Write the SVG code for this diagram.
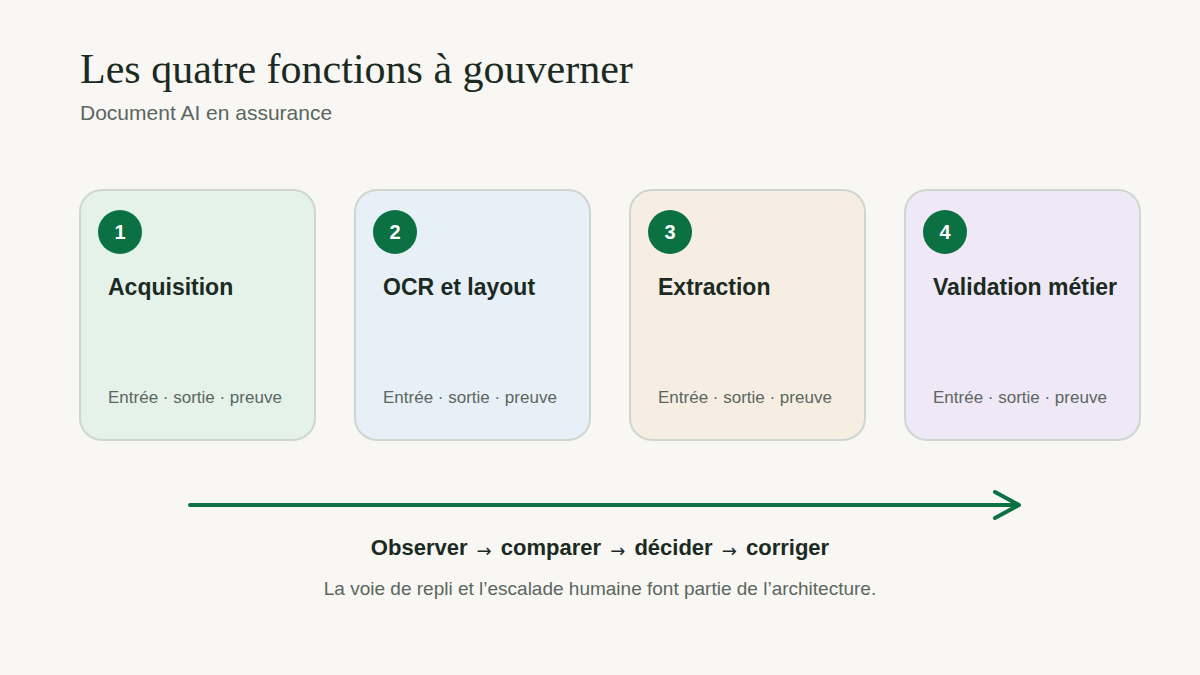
<svg xmlns="http://www.w3.org/2000/svg" width="1200" height="675" viewBox="0 0 1200 675">
<style>
.card{stroke:#cdd6cf;stroke-width:2}
.badge{fill:#0b7142}
.num{font-family:"Liberation Sans",Arial,sans-serif;font-weight:bold;font-size:20px;fill:#ffffff;text-anchor:middle}
.ttl{font-family:"Liberation Sans",Arial,sans-serif;font-weight:bold;font-size:23px;fill:#1b2a22}
.sub{font-family:"Liberation Sans",Arial,sans-serif;font-size:17px;fill:#5b6660}
.arr{font-weight:normal;font-family:"DejaVu Sans",sans-serif;font-size:18px}
</style>
<rect width="1200" height="675" fill="#f8f7f3"/>
<text x="80" y="83" font-family="Liberation Serif,Times New Roman,serif" font-size="42" fill="#1b2a22">Les quatre fonctions à gouverner</text>
<text x="80" y="120" font-family="Liberation Sans,Arial,sans-serif" font-size="21" fill="#5b6660">Document AI en assurance</text>
<g id="node1">
<rect class="card" x="80" y="190" width="235" height="250" rx="22" fill="#e5f2ea"/>
<circle class="badge" cx="120" cy="232" r="22"/>
<text class="num" x="120" y="239">1</text>
<text class="ttl" x="108" y="295">Acquisition</text>
<text class="sub" x="108" y="403">Entrée · sortie · preuve</text>
</g>
<g id="node2">
<rect class="card" x="355" y="190" width="235" height="250" rx="22" fill="#e8f0f7"/>
<circle class="badge" cx="395" cy="232" r="22"/>
<text class="num" x="395" y="239">2</text>
<text class="ttl" x="383" y="295">OCR et layout</text>
<text class="sub" x="383" y="403">Entrée · sortie · preuve</text>
</g>
<g id="node3">
<rect class="card" x="630" y="190" width="235" height="250" rx="22" fill="#f6eee3"/>
<circle class="badge" cx="670" cy="232" r="22"/>
<text class="num" x="670" y="239">3</text>
<text class="ttl" x="658" y="295">Extraction</text>
<text class="sub" x="658" y="403">Entrée · sortie · preuve</text>
</g>
<g id="node4">
<rect class="card" x="905" y="190" width="235" height="250" rx="22" fill="#efe8f6"/>
<circle class="badge" cx="945" cy="232" r="22"/>
<text class="num" x="945" y="239">4</text>
<text class="ttl" x="933" y="295">Validation métier</text>
<text class="sub" x="933" y="403">Entrée · sortie · preuve</text>
</g>
<g id="connectors">
<line x1="190" y1="505" x2="1018" y2="505" stroke="#0b7142" stroke-width="4" stroke-linecap="round"/>
<polyline points="995,492 1019,505 995,518" fill="none" stroke="#0b7142" stroke-width="4" stroke-linecap="round" stroke-linejoin="round"/>
</g>
<text x="600" y="555" text-anchor="middle" font-family="Liberation Sans,Arial,sans-serif" font-weight="bold" font-size="22" fill="#1b2a22">Observer <tspan class="arr" dx="3" dy="2">→</tspan><tspan dx="3" dy="-2"> comparer </tspan><tspan class="arr" dx="3" dy="2">→</tspan><tspan dx="3" dy="-2"> décider </tspan><tspan class="arr" dx="3" dy="2">→</tspan><tspan dx="3" dy="-2"> corriger</tspan></text>
<text x="600" y="595" text-anchor="middle" font-family="Liberation Sans,Arial,sans-serif" font-size="19" fill="#5b6660">La voie de repli et l’escalade humaine font partie de l’architecture.</text>
</svg>
